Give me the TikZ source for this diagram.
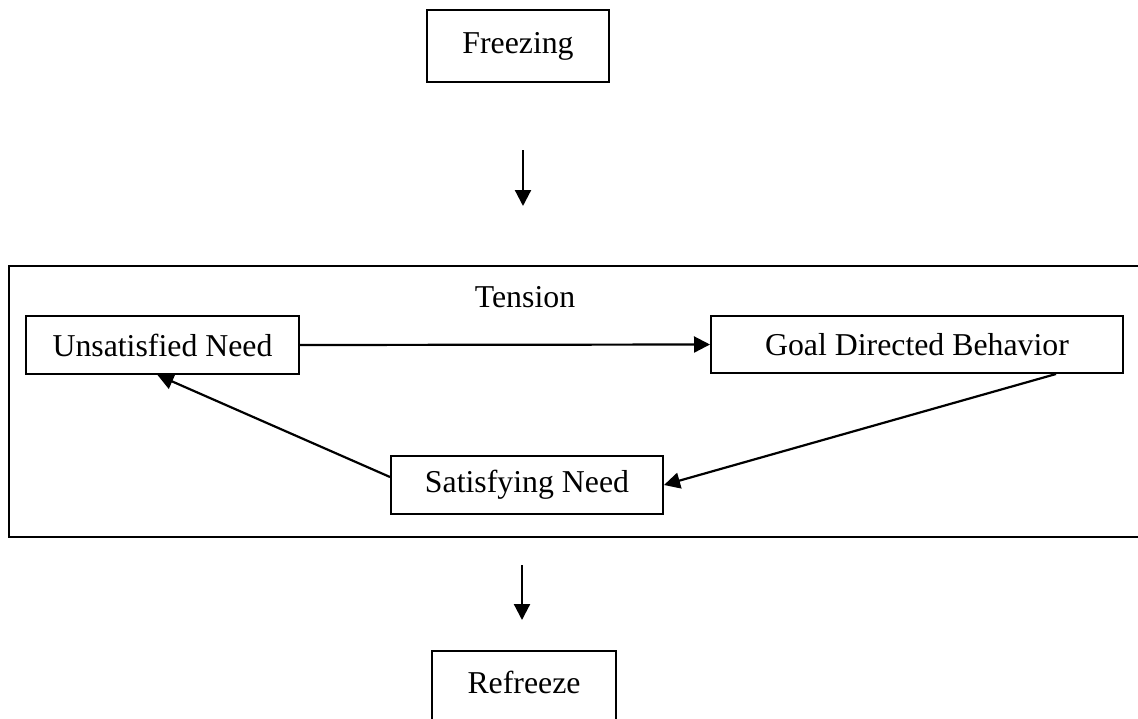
\documentclass[tikz,border=0pt]{standalone}
\usepackage{fontspec}
\setmainfont{Liberation Serif}
\usetikzlibrary{arrows.meta}
\begin{document}
\begin{tikzpicture}[x=1pt,y=-1pt,
  box/.style={draw, line width=2pt, inner sep=0pt, align=center,
    font=\fontsize{31.8}{38}\selectfont},
  arr/.style={line width=2.2pt, -{Triangle[length=16pt,width=16pt]}},
  lbl/.style={inner sep=0pt, font=\fontsize{31.8}{38}\selectfont}]
\useasboundingbox (0,0) rectangle (1138,718);
\clip (0,0) rectangle (1138,718);
% top box
\node[box, minimum width=182pt, minimum height=72pt] (freeze) at (518,46) {Freezing};
% arrow down
\coordinate (a1s) at (523,150);
\coordinate (a1e) at (523,206);
\draw[arr] (a1s) -- (a1e);
% tension frame (open on right)
\coordinate (ftr) at (1140,266);
\coordinate (fbr) at (1140,537);
\draw[line width=2pt] (ftr) -| (9,537) -- (fbr);
\node[lbl] (tension) at (525,297) {Tension};
\node[box, minimum width=273pt, minimum height=58pt] (unsat) at (162.5,345) {Unsatisfied Need};
\node[box, minimum width=412pt, minimum height=57pt] (goal) at (917,344.5) {Goal Directed Behavior};
\node[box, minimum width=272pt, minimum height=58pt] (sat) at (527,485) {Satisfying Need};
\draw[arr] (unsat.east) -- (goal.west);
\draw[arr] ([xshift=-68pt]goal.south east) -- (sat.east);
\draw[arr] ([yshift=8pt]sat.west) -- ([xshift=-5pt]unsat.south);
% arrow down
\coordinate (a2s) at (522,565);
\coordinate (a2e) at (522,620);
\draw[arr] (a2s) -- (a2e);
% bottom box (cut off)
\node[box, minimum width=184pt, minimum height=100pt, anchor=north] (refreeze) at (524,650) {};
\node[lbl] (reftext) at (524,682) {Refreeze};
\end{tikzpicture}
\end{document}
